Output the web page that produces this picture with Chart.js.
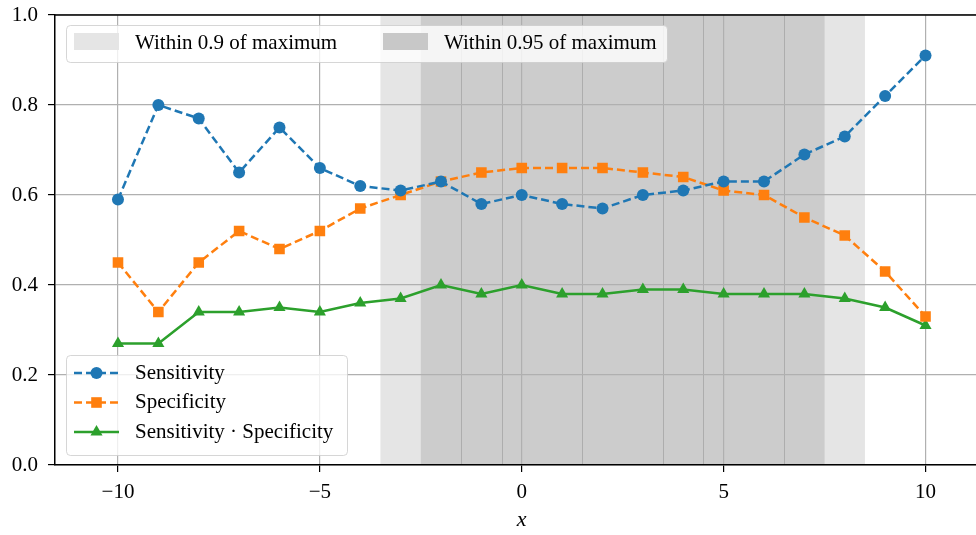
<!DOCTYPE html>
<html>
<head>
<meta charset="utf-8">
<script src="https://cdn.jsdelivr.net/npm/chart.js@4.4.0/dist/chart.umd.min.js"></script>
<style>
	html, body { margin: 0; padding: 0; background: #fff; overflow: hidden; }
</style>
</head>
<body>
<canvas id="grafico" width="996" height="535"></canvas>
<script>
	// valores
	var xValues = [-10, -9, -8, -7, -6, -5, -4, -3, -2, -1, 0, 1, 2, 3, 4, 5, 6, 7, 8, 9, 10];
	var sensitivity = [0.59, 0.80, 0.77, 0.65, 0.75, 0.66, 0.62, 0.61, 0.63, 0.58, 0.60, 0.58, 0.57, 0.60, 0.61, 0.63, 0.63, 0.69, 0.73, 0.82, 0.91];
	var specificity = [0.45, 0.34, 0.45, 0.52, 0.48, 0.52, 0.57, 0.60, 0.63, 0.65, 0.66, 0.66, 0.66, 0.65, 0.64, 0.61, 0.60, 0.55, 0.51, 0.43, 0.33];
	var product = [0.27, 0.27, 0.34, 0.34, 0.35, 0.34, 0.36, 0.37, 0.40, 0.38, 0.40, 0.38, 0.38, 0.39, 0.39, 0.38, 0.38, 0.38, 0.37, 0.35, 0.31];

	var xTicks = [-10, -5, 0, 5, 10];
	var yTicks = [0.0, 0.2, 0.4, 0.6, 0.8, 1.0];

	var span90 = [-3.5, 8.5];
	var span95 = [-2.5, 7.5];
	var span95Edges = [-1.5, -0.5, 1.5, 3.5, 4.5, 6.5];

	var seriesNames = ['Sensitivity', 'Specificity', 'Sensitivity \u00b7 Specificity'];
	var spanNames = ['Within 0.9 of maximum', 'Within 0.95 of maximum'];

	var FONT = '"Liberation Serif", "Times New Roman", serif';
	var BLUE = '#1f77b4', ORANGE = '#ff7f0e', GREEN = '#2ca02c';

	function toPoints(ys) {
		return xValues.map(function (x, i) { return { x: x, y: ys[i] }; });
	}

	var spansPlugin = {
		id: 'spans',
		beforeDraw: function (chart) {
			var ctx = chart.ctx, area = chart.chartArea, sx = chart.scales.x;
			var h = area.bottom - area.top;
			ctx.save();
			ctx.fillStyle = '#e5e5e5';
			var a = sx.getPixelForValue(span90[0]), b = sx.getPixelForValue(span90[1]);
			ctx.fillRect(a, area.top, b - a, h);
			ctx.fillStyle = '#cccccc';
			a = sx.getPixelForValue(span95[0]); b = sx.getPixelForValue(span95[1]);
			ctx.fillRect(a, area.top, b - a, h);
			ctx.strokeStyle = '#adadad';
			ctx.lineWidth = 1;
			span95Edges.forEach(function (v) {
				var p = Math.round(sx.getPixelForValue(v)) + 0.5;
				ctx.beginPath();
				ctx.moveTo(p, area.top);
				ctx.lineTo(p, area.bottom);
				ctx.stroke();
			});
			ctx.restore();
		},
		afterDraw: function (chart) {
			var ctx = chart.ctx, area = chart.chartArea;
			ctx.save();
			// top spine
			ctx.strokeStyle = '#000';
			ctx.lineWidth = 1.5;
			ctx.beginPath();
			ctx.moveTo(area.left, area.top);
			ctx.lineTo(area.right, area.top);
			ctx.stroke();

			ctx.font = '21px ' + FONT;
			ctx.textBaseline = 'middle';
			ctx.fillStyle = '#000';

			// legenda das faixas
			var lx = area.left + 11, ly = area.top + 10;
			caixa(ctx, lx, ly, 601, 37);
			ctx.fillStyle = '#e5e5e5';
			ctx.fillRect(lx + 8, ly + 8, 45, 17);
			ctx.fillStyle = '#c8c8c8';
			ctx.fillRect(lx + 317, ly + 8, 45, 17);
			ctx.fillStyle = '#000';
			ctx.fillText(spanNames[0], lx + 69, ly + 18);
			ctx.fillText(spanNames[1], lx + 378, ly + 18);

			// legenda das series
			var bx = area.left + 11, by = area.bottom - 110;
			caixa(ctx, bx, by, 281, 100);
			var estilos = [
				{ color: BLUE, dash: [8, 4], style: 'circle', r: 6 },
				{ color: ORANGE, dash: [8, 4], style: 'rect', r: 7.5 },
				{ color: GREEN, dash: [], style: 'triangle', r: 7 }
			];
			estilos.forEach(function (e, i) {
				var yy = by + 18 + i * 29.5;
				ctx.strokeStyle = e.color;
				ctx.lineWidth = 2.5;
				ctx.setLineDash(e.dash);
				ctx.beginPath();
				ctx.moveTo(bx + 8, yy);
				ctx.lineTo(bx + 53, yy);
				ctx.stroke();
				ctx.setLineDash([]);
				ctx.fillStyle = e.color;
				Chart.helpers.drawPoint(ctx, { pointStyle: e.style, radius: e.r, rotation: 0, borderWidth: 0 }, bx + 30.5, yy);
				ctx.fillStyle = '#000';
				ctx.fillText(seriesNames[i], bx + 69, yy);
			});
			ctx.restore();
		}
	};

	function caixa(ctx, x, y, w, h) {
		ctx.save();
		ctx.fillStyle = 'rgba(255,255,255,0.8)';
		ctx.strokeStyle = 'rgba(204,204,204,0.8)';
		ctx.lineWidth = 1;
		ctx.beginPath();
		ctx.roundRect(x + 0.5, y + 0.5, w, h, 4);
		ctx.fill();
		ctx.stroke();
		ctx.restore();
	}

	function dataset(label, ys, color, style, radius, dash) {
		return {
			label: label,
			data: toPoints(ys),
			fill: false,
			borderColor: color,
			backgroundColor: color,
			borderWidth: 2.5,
			borderDash: dash,
			pointStyle: style,
			pointRadius: radius,
			pointHoverRadius: radius,
			pointBackgroundColor: color,
			pointBorderColor: color,
			pointBorderWidth: 0,
			tension: 0
		};
	}

	Chart.defaults.font.family = FONT;
	Chart.defaults.font.size = 21;
	Chart.defaults.color = '#000';

	var ctx = document.getElementById('grafico');
	var grafico = new Chart(ctx, {
		type: 'line',
		data: {
			datasets: [
				dataset(seriesNames[0], sensitivity, BLUE, 'circle', 6, [8, 4]),
				dataset(seriesNames[1], specificity, ORANGE, 'rect', 7.5, [8, 4]),
				dataset(seriesNames[2], product, GREEN, 'triangle', 7, [])
			]
		},
		options: {
			responsive: false,
			animation: false,
			layout: { padding: { top: 15, right: 2, left: 0, bottom: 0 } },
			plugins: { legend: { display: false }, tooltip: { enabled: false } },
			scales: {
				x: {
					type: 'linear',
					min: -11.56,
					max: 11.56,
					afterBuildTicks: function (scale) {
						scale.ticks = xTicks.map(function (v) { return { value: v }; });
					},
					afterFit: function (scale) {
						scale.height = 70;
						scale.paddingLeft = 0;
						scale.paddingRight = 0;
					},
					ticks: {
						padding: 8,
						callback: function (v) { return String(v).replace('-', '\u2212'); }
					},
					grid: { color: '#b0b0b0', lineWidth: 1.2, tickColor: '#000', tickLength: 7, tickWidth: 1.2 },
					border: { color: '#000', width: 1.5 },
					title: { display: true, text: 'x', font: { size: 22, style: 'italic', family: FONT }, padding: { top: 0, bottom: 2 } }
				},
				y: {
					min: 0,
					max: 1,
					afterBuildTicks: function (scale) {
						scale.ticks = yTicks.map(function (v) { return { value: v }; });
					},
					afterFit: function (scale) {
						scale.width = 55;
						scale.paddingTop = 0;
						scale.paddingBottom = 0;
					},
					ticks: {
						padding: 10,
						callback: function (v) { return v.toFixed(1); }
					},
					grid: { color: '#b0b0b0', lineWidth: 1.2, tickColor: '#000', tickLength: 7, tickWidth: 1.2 },
					border: { color: '#000', width: 1.5 }
				}
			}
		},
		plugins: [spansPlugin]
	});
</script>
</body>
</html>
